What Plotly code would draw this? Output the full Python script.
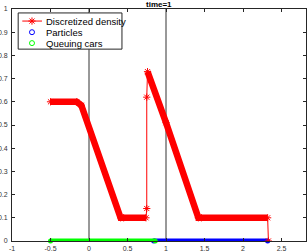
import plotly.graph_objects as go

# ---- data ----
density_x = [-0.5, -0.16, -0.1, 0.41, 0.45, 0.74, 0.75, 0.75, 0.76, 1.0, 1.42, 1.46, 2.32, 2.33]
density_y = [0.6, 0.6, 0.585, 0.1, 0.1, 0.1, 0.14, 0.62, 0.73, 0.51, 0.1, 0.1, 0.1, 0.0]
# continuous (dense) parts of the discretized density: index ranges into the arrays above
dense_parts = [(0, 6), (8, 13)]
# extents of the particle band and the queuing-car band on y=0
particles_x = [0.84, 2.32]
queuing_x = [-0.5, 0.86]
ref_lines_x = [0, 1]
x_ticks = [-1, -0.5, 0, 0.5, 1, 1.5, 2, 2.5]
x_tick_text = ["-1", "-0.5", "0", "0.5", "1", "1.5", "2", "2.5"]
y_ticks = [0, 0.1, 0.2, 0.3, 0.4, 0.5, 0.6, 0.7, 0.8, 0.9, 1]
y_tick_text = ["0", "0.1", "0.2", "0.3", "0.4", "0.5", "0.6", "0.7", "0.8", "0.9", "1"]
legend_names = ["Discretized density", "Particles", "Queuing cars"]
title_text = "time=1"

RED = "#ff0000"
BLUE = "#0000ff"
GREEN = "#00ff00"
AX = "#262626"

fig = go.Figure()

for xv in ref_lines_x:
    fig.add_vline(x=xv, line=dict(color="#333333", width=1), layer="below")

# particle band and queuing band
fig.add_trace(go.Scatter(x=particles_x, y=[0] * len(particles_x), mode="lines+markers",
                         line=dict(color=BLUE, width=5), marker=dict(color=BLUE, size=5),
                         cliponaxis=False, showlegend=False, hoverinfo="skip"))
fig.add_trace(go.Scatter(x=queuing_x, y=[0] * len(queuing_x), mode="lines+markers",
                         line=dict(color=GREEN, width=5), marker=dict(color=GREEN, size=5),
                         cliponaxis=False, showlegend=False, hoverinfo="skip"))

# thin density line with asterisks
fig.add_trace(go.Scatter(x=density_x, y=density_y, mode="lines+markers",
                         line=dict(color=RED, width=1),
                         marker=dict(symbol="asterisk-open", size=6, color=RED, line=dict(color=RED, width=1)),
                         showlegend=False, hoverinfo="skip"))
# thick continuous parts
for a, b in dense_parts:
    fig.add_trace(go.Scatter(x=density_x[a:b], y=density_y[a:b], mode="lines",
                             line=dict(color=RED, width=6.5), showlegend=False, hoverinfo="skip"))

# ---- manual legend (MATLAB-style, compact) ----
lx0, lx1, ly0, ly1 = 0.021, 0.374, 0.827, 0.983
fig.add_shape(type="rect", xref="paper", yref="paper", x0=lx0, x1=lx1, y0=ly0, y1=ly1,
              line=dict(color=AX, width=1), fillcolor="white", layer="below")
row_y = [0.948, 0.900, 0.853]
sym_x = 0.068
fig.add_trace(go.Scatter(x=[0.035, sym_x, 0.102], y=[row_y[0]] * 3, xaxis="x2", yaxis="y2",
                         mode="lines", line=dict(color=RED, width=1), showlegend=False, hoverinfo="skip"))
fig.add_trace(go.Scatter(x=[sym_x], y=[row_y[0]], xaxis="x2", yaxis="y2", mode="markers",
                         marker=dict(symbol="asterisk-open", size=6, color=RED, line=dict(color=RED, width=1)),
                         showlegend=False, hoverinfo="skip"))
fig.add_trace(go.Scatter(x=[sym_x], y=[row_y[1]], xaxis="x2", yaxis="y2", mode="markers",
                         marker=dict(symbol="circle-open", size=5, color=BLUE, line=dict(color=BLUE, width=1)),
                         showlegend=False, hoverinfo="skip"))
fig.add_trace(go.Scatter(x=[sym_x], y=[row_y[2]], xaxis="x2", yaxis="y2", mode="markers",
                         marker=dict(symbol="circle-open", size=5, color=GREEN, line=dict(color=GREEN, width=1)),
                         showlegend=False, hoverinfo="skip"))
for name, ry in zip(legend_names, row_y):
    fig.add_annotation(xref="paper", yref="paper", x=0.109, y=ry, text=name, showarrow=False,
                       xanchor="left", yanchor="middle",
                       font=dict(family="Liberation Sans, Arial", size=9.5, color="#000000"))

fig.add_annotation(xref="paper", yref="paper", x=0.5, y=1, yanchor="bottom", yshift=-2,
                   text="<b>" + title_text + "</b>", showarrow=False,
                   font=dict(family="Liberation Sans, Arial", size=8, color="#000000"))

axis_common = dict(showgrid=False, zeroline=False, ticks="inside", ticklen=3, tickwidth=1,
                   tickcolor=AX, showline=True, linecolor=AX, linewidth=1, mirror="allticks",
                   automargin=False,
                   tickfont=dict(family="Liberation Sans, Arial", size=7, color="#333333"))

fig.update_layout(
    width=307, height=252,
    margin=dict(l=12, r=1, t=9, b=11, autoexpand=False),
    paper_bgcolor="white", plot_bgcolor="white",
    showlegend=False,
    xaxis=dict(range=[-1, 2.818], tickvals=x_ticks, ticktext=x_tick_text, ticklabelstandoff=1, **axis_common),
    yaxis=dict(range=[0, 1], tickvals=y_ticks, ticktext=y_tick_text, ticklabelstandoff=2, **axis_common),
    xaxis2=dict(range=[0, 1], overlaying="x", visible=False),
    yaxis2=dict(range=[0, 1], overlaying="y", visible=False),
)
fig.write_html("out.html", config={"displayModeBar": False},
               post_script="document.body.style.margin='0';document.body.style.overflow='hidden';")
